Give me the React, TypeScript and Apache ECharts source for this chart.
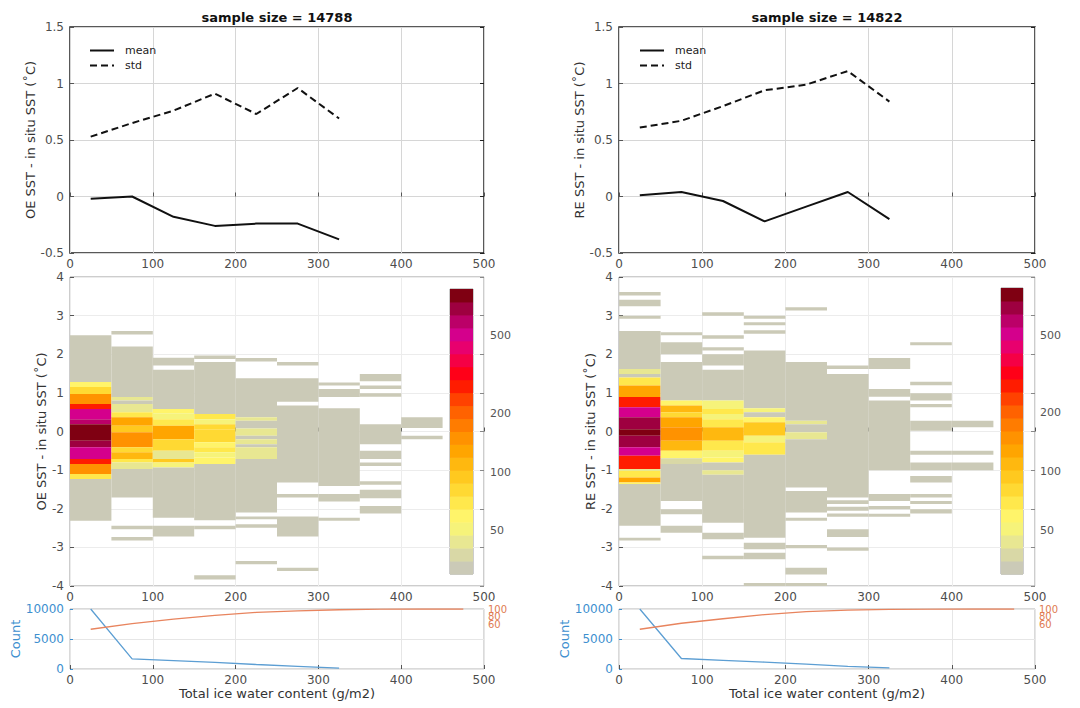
import React, { useEffect, useRef } from "react";
import * as echarts from "echarts";

const FONT = "DejaVu Sans";
const BIN_W = 50;
const BIN_CENTERS = [25, 75, 125, 175, 225, 275, 325];
const OE_MEAN = [-0.02, 0.0, -0.18, -0.26, -0.24, -0.24, -0.38];
const OE_STD = [0.53, 0.65, 0.76, 0.91, 0.73, 0.96, 0.69];
const RE_MEAN = [0.01, 0.04, -0.04, -0.22, -0.09, 0.04, -0.2];
const RE_STD = [0.61, 0.67, 0.8, 0.94, 0.99, 1.11, 0.84];
const OE_SAMPLE = 14788;
const RE_SAMPLE = 14822;
const COUNT_OE = [10000, 1700, 1400, 1100, 750, 450, 150];
const COUNT_RE = [10000, 1750, 1450, 1150, 800, 450, 200];
const PCT_CENTERS = [25, 75, 125, 175, 225, 275, 325, 375, 425, 475];
const PCT_OE = [46, 61, 73, 83, 91, 95, 98, 99.5, 100, 100];
const PCT_RE = [46, 62, 74, 85, 93, 97, 99, 99.7, 100, 100];
const PCT_TICKS_A = [60, 100];
const PCT_TICKS_B = [80];
const CBAR_TICKS = [50, 100, 200, 500];
const CBAR_MIN = 30;
const CBAR_MAX = 870;
const PALETTE = [
  "#cbcab7", "#d9d8a6", "#e8e792", "#f6f37a", "#fff46a", "#ffe84c", "#ffd933", "#ffc91f",
  "#ffb80f", "#ffa500", "#ff9200", "#ff7c00", "#ff6200", "#ff4200", "#ff1c00", "#ff0018",
  "#f50045", "#e8006e", "#d4008c", "#bb0068", "#9e0040", "#7f0012",
];

// [xStart, yLow, yHigh, count]
const HEAT_OE = [
  [0, 1.28, 2.49, 15], [0, 1.15, 1.28, 60], [0, 0.97, 1.15, 85], [0, 0.71, 0.97, 150],
  [0, 0.58, 0.71, 276], [0, 0.32, 0.58, 480], [0, 0.19, 0.32, 593], [0, -0.24, 0.19, 805],
  [0, -0.41, -0.24, 691], [0, -0.71, -0.41, 509], [0, -0.84, -0.71, 276], [0, -1.1, -0.84, 160],
  [0, -1.23, -1.1, 70], [0, -2.31, -1.23, 15],
  [50, 2.51, 2.6, 3], [50, 0.89, 2.2, 12], [50, 0.8, 0.89, 44], [50, 0.71, 0.8, 15],
  [50, 0.5, 0.71, 44], [50, 0.37, 0.5, 70], [50, 0.15, 0.37, 128], [50, -0.02, 0.15, 95],
  [50, -0.41, -0.02, 150], [50, -0.54, -0.41, 81], [50, -0.71, -0.54, 110], [50, -0.8, -0.71, 70],
  [50, -0.97, -0.8, 44], [50, -1.71, -0.97, 12], [50, -2.53, -2.44, 3], [50, -2.82, -2.73, 3],
  [100, 1.71, 1.91, 8], [100, 0.58, 1.6, 12], [100, 0.47, 0.58, 60], [100, 0.32, 0.47, 51],
  [100, 0.15, 0.32, 70], [100, -0.2, 0.15, 120], [100, -0.5, -0.2, 81], [100, -0.71, -0.5, 44],
  [100, -0.8, -0.71, 95], [100, -0.93, -0.8, 51], [100, -2.23, -0.93, 12], [100, -2.72, -2.44, 5],
  [150, 1.88, 1.97, 3], [150, 0.45, 1.8, 12], [150, 0.32, 0.45, 70], [150, 0.19, 0.32, 51],
  [150, 0.06, 0.19, 81], [150, -0.28, 0.06, 81], [150, -0.41, -0.28, 60], [150, -0.54, -0.41, 70],
  [150, -0.67, -0.54, 51], [150, -0.84, -0.67, 60], [150, -2.3, -0.84, 12], [150, -2.53, -2.44, 3],
  [150, -3.83, -3.72, 3],
  [200, 1.81, 1.9, 3], [200, 0.37, 1.38, 10], [200, 0.28, 0.37, 44], [200, 0.08, 0.28, 10],
  [200, -0.11, 0.08, 44], [200, -0.2, -0.11, 10], [200, -0.33, -0.2, 44], [200, -0.41, -0.33, 10],
  [200, -0.71, -0.41, 44], [200, -2.1, -0.71, 10], [200, -2.27, -2.2, 3], [200, -2.49, -2.4, 3],
  [200, -3.44, -3.35, 3],
  [250, 1.71, 1.8, 3], [250, 0.77, 1.38, 10], [250, -1.32, 0.67, 10], [250, -1.71, -1.62, 3],
  [250, -2.72, -2.2, 5], [250, -3.61, -3.53, 3],
  [300, 1.19, 1.27, 3], [300, 0.89, 1.1, 6], [300, -1.41, 0.6, 8], [300, -1.81, -1.62, 4],
  [300, -2.31, -2.23, 3],
  [350, 1.3, 1.49, 4], [350, 1.1, 1.19, 3], [350, 0.9, 0.99, 3], [350, -0.33, 0.19, 5],
  [350, -0.71, -0.5, 4], [350, -0.89, -0.8, 3], [350, -1.38, -1.29, 3], [350, -1.73, -1.51, 4],
  [350, -2.12, -1.93, 3],
  [400, 0.09, 0.37, 3], [400, -0.2, -0.11, 2],
];

const HEAT_RE = [
  [0, 3.52, 3.61, 3], [0, 3.24, 3.41, 3], [0, 2.92, 3.0, 3], [0, 1.62, 2.6, 15],
  [0, 1.49, 1.62, 44], [0, 1.4, 1.49, 20], [0, 1.19, 1.4, 70], [0, 0.89, 1.19, 128],
  [0, 0.63, 0.89, 276], [0, 0.37, 0.63, 509], [0, 0.06, 0.37, 691], [0, -0.11, 0.06, 805],
  [0, -0.41, -0.11, 691], [0, -0.63, -0.41, 480], [0, -0.97, -0.63, 276], [0, -1.02, -0.97, 44],
  [0, -1.19, -1.02, 70], [0, -1.32, -1.19, 128], [0, -1.36, -1.32, 60], [0, -2.44, -1.36, 15],
  [0, -2.82, -2.75, 3],
  [50, 2.49, 2.57, 3], [50, 2.0, 2.31, 6], [50, 0.8, 1.8, 12], [50, 0.67, 0.8, 60],
  [50, 0.5, 0.67, 110], [50, 0.37, 0.5, 81], [50, 0.11, 0.37, 128], [50, -0.24, 0.11, 150],
  [50, -0.5, -0.24, 110], [50, -0.69, -0.5, 60], [50, -0.84, -0.69, 38], [50, -1.8, -0.84, 12],
  [50, -2.14, -2.01, 3], [50, -2.62, -2.44, 3],
  [100, 3.0, 3.09, 3], [100, 2.4, 2.49, 3], [100, 2.1, 2.18, 3], [100, 1.71, 2.0, 6],
  [100, 0.8, 1.6, 12], [100, 0.58, 0.8, 51], [100, 0.45, 0.58, 70], [100, 0.32, 0.45, 51],
  [100, 0.11, 0.32, 70], [100, -0.24, 0.11, 110], [100, -0.5, -0.24, 70], [100, -0.67, -0.5, 51],
  [100, -0.8, -0.67, 60], [100, -1.0, -0.8, 15], [100, -1.12, -1.0, 44], [100, -2.36, -1.12, 12],
  [100, -2.79, -2.62, 4], [100, -3.31, -3.22, 3],
  [150, 2.92, 3.0, 3], [150, 2.75, 2.83, 3], [150, 2.53, 2.62, 3], [150, 0.6, 2.1, 12],
  [150, 0.5, 0.6, 51], [150, 0.37, 0.5, 15], [150, 0.24, 0.37, 60], [150, -0.11, 0.24, 95],
  [150, -0.28, -0.11, 51], [150, -0.6, -0.28, 70], [150, -2.75, -0.6, 12], [150, -3.05, -2.88, 4],
  [150, -3.31, -3.14, 4], [150, -4.0, -3.92, 3],
  [200, 3.13, 3.22, 3], [200, 0.28, 1.8, 10], [200, 0.19, 0.28, 44], [200, -0.02, 0.19, 10],
  [200, -0.2, -0.02, 44], [200, -1.45, -0.2, 10], [200, -2.1, -1.54, 8], [200, -2.31, -2.23, 3],
  [200, -3.02, -2.94, 3], [200, -3.7, -3.53, 3], [200, -4.0, -3.92, 3],
  [250, 1.62, 1.71, 3], [250, -1.71, 1.49, 8], [250, -1.88, -1.78, 3], [250, -2.05, -1.95, 3],
  [250, -2.21, -2.12, 3], [250, -2.73, -2.53, 3], [250, -3.09, -3.0, 3],
  [300, 1.62, 1.9, 4], [300, 0.9, 1.1, 4], [300, -1.0, 0.8, 6], [300, -1.8, -1.62, 3],
  [300, -2.01, -1.93, 3], [300, -2.21, -2.13, 3],
  [350, 2.23, 2.31, 3], [350, 1.2, 1.29, 3], [350, 0.8, 0.99, 3], [350, 0.63, 0.71, 3],
  [350, 0.02, 0.28, 4], [350, -0.6, -0.5, 3], [350, -1.0, -0.8, 3], [350, -1.32, -1.15, 3],
  [350, -1.71, -1.62, 3], [350, -1.88, -1.8, 3], [350, -2.12, -2.01, 3],
  [400, 0.11, 0.28, 3], [400, -0.6, -0.5, 2], [400, -1.0, -0.8, 2],
];

const LOG_MIN = Math.log10(CBAR_MIN);
const LOG_MAX = Math.log10(CBAR_MAX);
const NLEV = PALETTE.length;

function colorFor(c: number) {
  let lvl = Math.floor(((Math.log10(c) - LOG_MIN) / (LOG_MAX - LOG_MIN)) * NLEV);
  if (lvl < 0) lvl = 0;
  if (lvl > NLEV - 1) lvl = NLEV - 1;
  return PALETTE[lvl];
}

const LABEL = { fontFamily: FONT, fontSize: 12, color: "#4d4d4d" };

const L = { left: 70, width: 414 };
const R = { left: 619, width: 416 };
const ROWS = {
  top: { top: 27, height: 226 },
  heat: { top: 277, height: 309 },
  bot: { top: 609, height: 60 },
};

function renderCell(params: any, api: any) {
  const x0 = api.value(0);
  const y0 = api.value(1);
  const y1 = api.value(2);
  const c = api.value(3);
  const p0 = api.coord([x0, y1]);
  const p1 = api.coord([x0 + BIN_W, y0]);
  return {
    type: "rect",
    shape: { x: p0[0], y: p0[1], width: p1[0] - p0[0], height: p1[1] - p0[1] },
    style: { fill: colorFor(c) },
  };
}

function renderBar(params: any, api: any) {
  const lvl = api.value(0);
  const step = (LOG_MAX - LOG_MIN) / NLEV;
  const lo = LOG_MIN + lvl * step;
  const p0 = api.coord([0, lo + step]);
  const p1 = api.coord([1, lo]);
  return {
    type: "rect",
    shape: { x: p0[0], y: p0[1], width: p1[0] - p0[0], height: p1[1] - p0[1] + 0.5 },
    style: { fill: PALETTE[lvl] },
  };
}

export default function App() {
  const ref = useRef<HTMLDivElement>(null);
  useEffect(() => {
    document.body.style.margin = "0";
    const chart = echarts.init(ref.current!, undefined, { renderer: "svg" });

    const grids = [
      { ...L, ...ROWS.top, show: true, borderColor: "#222", borderWidth: 1.5 },
      { ...R, ...ROWS.top, show: true, borderColor: "#222", borderWidth: 1.5 },
      { ...L, ...ROWS.heat, show: true, borderColor: "#9a9a9a", borderWidth: 1 },
      { ...R, ...ROWS.heat, show: true, borderColor: "#9a9a9a", borderWidth: 1 },
      { ...L, ...ROWS.bot, show: true, borderColor: "#b5b5b5", borderWidth: 1 },
      { ...R, ...ROWS.bot, show: true, borderColor: "#b5b5b5", borderWidth: 1 },
      { left: 450, top: 289, width: 23, height: 285, show: true, borderColor: "#999", borderWidth: 1 },
      { left: 1001, top: 288, width: 22, height: 286, show: true, borderColor: "#999", borderWidth: 1 },
    ];

    const xAxisFor = (gi: number, split: string) => ({
      type: "value",
      gridIndex: gi,
      min: 0,
      max: 500,
      interval: 100,
      axisLine: { show: false },
      axisTick: { inside: true, length: 4, lineStyle: { color: "#555" } },
      axisLabel: { ...LABEL, margin: 5 },
      splitLine: { show: true, lineStyle: { color: split, width: 1 } },
    });

    const xName = {
      name: "Total ice water content (g/m2)",
      nameLocation: "middle",
      nameGap: 15,
      nameTextStyle: { fontFamily: FONT, fontSize: 13, color: "#333" },
    };

    const xAxes: any[] = [
      xAxisFor(0, "#d6d6d6"),
      xAxisFor(1, "#d6d6d6"),
      xAxisFor(2, "#ececec"),
      xAxisFor(3, "#ececec"),
      { ...xAxisFor(4, "#e6e6e6"), ...xName },
      { ...xAxisFor(5, "#e6e6e6"), ...xName },
      { type: "value", gridIndex: 6, min: 0, max: 1, show: false },
      { type: "value", gridIndex: 7, min: 0, max: 1, show: false },
    ];

    const yMain = (gi: number, min: number, max: number, interval: number, name: string, gap: number, split: string) => ({
      type: "value",
      gridIndex: gi,
      min,
      max,
      interval,
      name,
      nameLocation: "middle",
      nameGap: gap,
      nameTextStyle: { fontFamily: FONT, fontSize: 13, color: "#333" },
      axisLine: { show: false },
      axisTick: { inside: true, length: 4, lineStyle: { color: "#555" } },
      axisLabel: { ...LABEL, margin: 6 },
      splitLine: { show: true, lineStyle: { color: split, width: 1 } },
    });
    const yMirror = (gi: number, min: number, max: number, interval: number, color: string) => ({
      type: "value",
      gridIndex: gi,
      position: "right",
      min,
      max,
      interval,
      axisLine: { show: false },
      axisTick: { inside: true, length: 4, lineStyle: { color } },
      axisLabel: { show: false },
      splitLine: { show: false },
    });

    const countAxis = (gi: number, gap: number) => ({
      type: "value",
      gridIndex: gi,
      min: 0,
      max: 10000,
      interval: 5000,
      name: "Count",
      nameLocation: "middle",
      nameGap: gap,
      nameTextStyle: { fontFamily: FONT, fontSize: 13, color: "#3d8fcf" },
      axisLine: { show: false },
      axisTick: { inside: true, length: 3, lineStyle: { color: "#3d8fcf" } },
      axisLabel: { ...LABEL, color: "#3d8fcf", margin: 6, formatter: (v: number) => String(v) },
      splitLine: { show: true, lineStyle: { color: "#e6e6e6" } },
    });
    const pctAxis = (gi: number, ticks: number[]) => ({
      type: "value",
      gridIndex: gi,
      position: "right",
      min: -60,
      max: 100,
      interval: 20,
      axisLine: { show: false },
      axisTick: { show: false },
      axisLabel: {
        fontFamily: FONT,
        fontSize: 10,
        lineHeight: 8,
        color: "#e07b52",
        margin: 4,
        customValues: ticks,
        showMaxLabel: true,
        showMinLabel: true,
        hideOverlap: false,
      },
      splitLine: { show: false },
    });
    const cbarAxis = (gi: number) => ({
      type: "value",
      gridIndex: gi,
      position: "right",
      min: LOG_MIN,
      max: LOG_MAX,
      axisLine: { show: false },
      axisTick: { show: false },
      splitLine: { show: false },
      axisLabel: {
        ...LABEL,
        fontSize: 11,
        color: "#555",
        margin: 17,
        customValues: CBAR_TICKS.map((t) => Math.log10(t)),
        formatter: (v: number) => String(Math.round(Math.pow(10, v))),
      },
    });

    const yAxes: any[] = [
      yMain(0, -0.5, 1.5, 0.5, "OE SST - in situ SST (˚C)", 31, "#d6d6d6"),
      yMirror(0, -0.5, 1.5, 0.5, "#222"),
      yMain(1, -0.5, 1.5, 0.5, "RE SST - in situ SST (˚C)", 29, "#d6d6d6"),
      yMirror(1, -0.5, 1.5, 0.5, "#222"),
      yMain(2, -4, 4, 1, "OE SST - in situ SST (˚C)", 20, "#ececec"),
      yMirror(2, -4, 4, 1, "#888"),
      yMain(3, -4, 4, 1, "RE SST - in situ SST (˚C)", 19, "#ececec"),
      yMirror(3, -4, 4, 1, "#888"),
      countAxis(4, 47),
      pctAxis(4, PCT_TICKS_A),
      countAxis(5, 44),
      pctAxis(5, PCT_TICKS_A),
      cbarAxis(6),
      cbarAxis(7),
      pctAxis(4, PCT_TICKS_B),
      pctAxis(5, PCT_TICKS_B),
    ];

    const pair = (xs: number[], ys: number[]) => xs.map((x, i) => [x, ys[i]]);
    const meanLine = (xi: number, yi: number, data: number[]) => ({
      name: "mean",
      type: "line",
      xAxisIndex: xi,
      yAxisIndex: yi,
      data: pair(BIN_CENTERS, data),
      symbol: "none",
      lineStyle: { color: "#111", width: 2 },
      itemStyle: { color: "#111" },
    });
    const stdLine = (xi: number, yi: number, data: number[]) => ({
      name: "std",
      type: "line",
      xAxisIndex: xi,
      yAxisIndex: yi,
      data: pair(BIN_CENTERS, data),
      symbol: "none",
      lineStyle: { color: "#111", width: 2, type: [7, 4] },
      itemStyle: { color: "#111" },
    });
    const heat = (xi: number, yi: number, data: number[][]) => ({
      type: "custom",
      xAxisIndex: xi,
      yAxisIndex: yi,
      renderItem: renderCell,
      data,
      encode: { x: 0, y: [1, 2] },
      clip: true,
      silent: true,
    });
    const cbar = (xi: number, yi: number) => ({
      type: "custom",
      xAxisIndex: xi,
      yAxisIndex: yi,
      renderItem: renderBar,
      data: PALETTE.map((_, i) => [i]),
      silent: true,
    });
    const countLine = (xi: number, yi: number, data: number[]) => ({
      type: "line",
      xAxisIndex: xi,
      yAxisIndex: yi,
      data: pair(BIN_CENTERS, data),
      symbol: "none",
      lineStyle: { color: "#5c9ed3", width: 1.3 },
    });
    const pctLine = (xi: number, yi: number, data: number[]) => ({
      type: "line",
      xAxisIndex: xi,
      yAxisIndex: yi,
      data: pair(PCT_CENTERS, data),
      symbol: "none",
      lineStyle: { color: "#e8845e", width: 1.3 },
    });

    const legendBase = {
      orient: "vertical",
      top: 40,
      itemWidth: 24,
      itemHeight: 10,
      itemGap: 4,
      data: ["mean", "std"],
      itemStyle: { opacity: 0 },
      textStyle: { fontFamily: FONT, fontSize: 11, color: "#222", padding: [0, 0, 0, 6] },
    };

    const titleText = (x: number, n: number) => ({
      type: "text",
      x,
      y: 17,
      style: {
        text: "sample size = " + n,
        fontFamily: FONT,
        fontSize: 13,
        fontWeight: "bold",
        fill: "#111",
        textAlign: "center",
        textVerticalAlign: "middle",
      },
    });

    chart.setOption({
      animation: false,
      backgroundColor: "#fff",
      grid: grids,
      xAxis: xAxes,
      yAxis: yAxes,
      legend: [
        { ...legendBase, left: 84 },
        { ...legendBase, left: 634 },
      ],
      graphic: [titleText(277, OE_SAMPLE), titleText(827, RE_SAMPLE)],
      series: [
        meanLine(0, 0, OE_MEAN),
        stdLine(0, 0, OE_STD),
        meanLine(1, 2, RE_MEAN),
        stdLine(1, 2, RE_STD),
        heat(2, 4, HEAT_OE),
        heat(3, 6, HEAT_RE),
        countLine(4, 8, COUNT_OE),
        pctLine(4, 9, PCT_OE),
        countLine(5, 10, COUNT_RE),
        pctLine(5, 11, PCT_RE),
        cbar(6, 12),
        cbar(7, 13),
      ],
    });
    return () => chart.dispose();
  }, []);
  return <div ref={ref} style={{ width: 1080, height: 708 }} />;
}
